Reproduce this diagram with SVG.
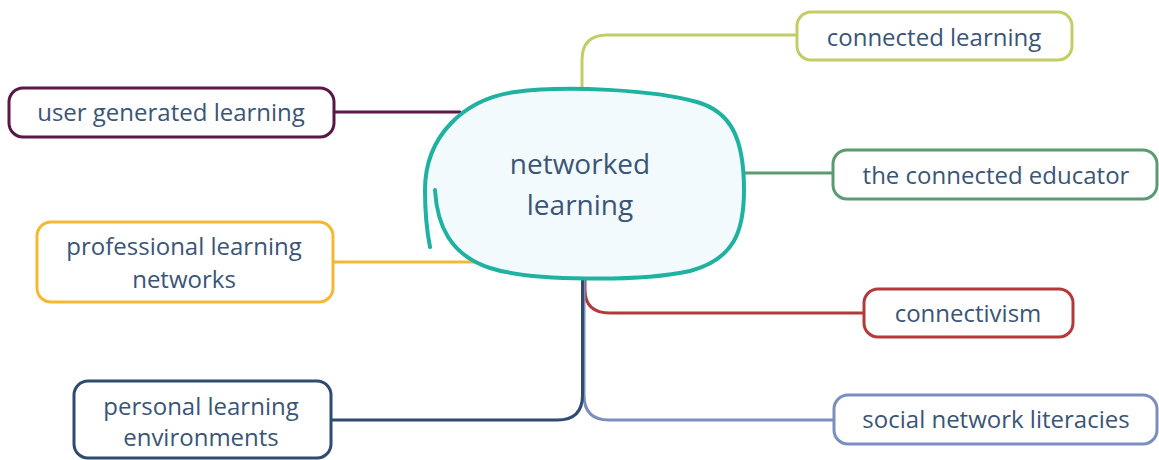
<svg xmlns="http://www.w3.org/2000/svg" width="1159" height="460" viewBox="0 0 1159 460">
  <style>
    .box { fill: #ffffff; stroke-width: 3; }
    .link { fill: none; stroke-width: 3; stroke-linecap: round; }
    .label { font-family: "Open Sans", "Liberation Sans", sans-serif; font-size: 24px; fill: #3a5576; text-anchor: middle; }
    .root-label { font-family: "Open Sans", "Liberation Sans", sans-serif; font-size: 28px; fill: #3a5576; text-anchor: middle; }
  </style>
  <rect width="1159" height="460" fill="#ffffff"/>

  <!-- branches -->
  <g id="connectors">
    <path class="link" stroke="#c3cd66" d="M582,90 V60 Q582,35 607,35 H797"/>
    <path class="link" stroke="#5a1747" d="M334,112 H460"/>
    <path class="link" stroke="#5c9a72" d="M742,173 H833"/>
    <path class="link" stroke="#f5b833" d="M334,262 H474"/>
    <path class="link" stroke="#b23a3a" d="M585,278 V290 Q585,313 610,313 H864"/>
    <path class="link" stroke="#7a8fc0" d="M584,278 V395 Q584,420 609,420 H834"/>
    <path class="link" stroke="#2f4b70" d="M582.5,278 V395 Q582.5,420 557.5,420 H332"/>
  </g>

  <!-- central topic: a single hand-drawn loop whose ends overlap on the left -->
  <g id="node-networked-learning">
    <path d="M435,190 C437,225 450,255 490,268 C530,281 640,282 690,271 C735,259 744,230 744,190 C744,140 732,112 697,102 C655,90 565,85 515,92 C465,99 425,135 425,190 C425,215 427,232 430,247"
          fill="#f3fafd" stroke="#1fb2a0" stroke-width="4" stroke-linecap="round"/>
    <text class="root-label" x="580" y="174">networked</text>
    <text class="root-label" x="580" y="215">learning</text>
  </g>

  <g id="node-connected-learning">
    <rect class="box" x="797" y="12" width="275" height="48" rx="14" stroke="#c3cd66"/>
    <text class="label" x="934" y="46">connected learning</text>
  </g>

  <g id="node-user-generated-learning">
    <rect class="box" x="9" y="88" width="325" height="49" rx="14" stroke="#5a1747"/>
    <text class="label" x="171" y="121">user generated learning</text>
  </g>

  <g id="node-connected-educator">
    <rect class="box" x="833" y="150" width="324" height="49" rx="14" stroke="#5c9a72"/>
    <text class="label" x="996" y="184">the connected educator</text>
  </g>

  <g id="node-professional-learning-networks">
    <rect class="box" x="37" y="222" width="296" height="80" rx="14" stroke="#f5b833"/>
    <text class="label" x="184" y="255">professional learning</text>
    <text class="label" x="184" y="288">networks</text>
  </g>

  <g id="node-connectivism">
    <rect class="box" x="864" y="289" width="209" height="48" rx="14" stroke="#b23a3a"/>
    <text class="label" x="968" y="322">connectivism</text>
  </g>

  <g id="node-personal-learning-environments">
    <rect class="box" x="74" y="381" width="257" height="77" rx="14" stroke="#2f4b70"/>
    <text class="label" x="201" y="415">personal learning</text>
    <text class="label" x="201" y="446">environments</text>
  </g>

  <g id="node-social-network-literacies">
    <rect class="box" x="834" y="395" width="323" height="49" rx="14" stroke="#7a8fc0"/>
    <text class="label" x="996" y="428">social network literacies</text>
  </g>
</svg>
